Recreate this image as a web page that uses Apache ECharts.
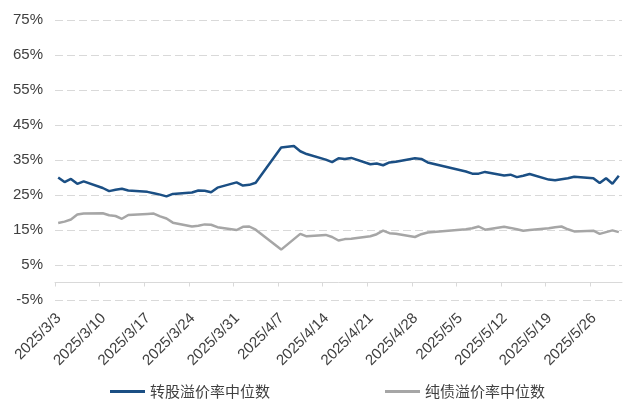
<!DOCTYPE html>
<html>
<head>
<meta charset="utf-8">
<script src="https://cdn.jsdelivr.net/npm/echarts@6/dist/echarts.min.js"></script>
<style>
html,body{margin:0;padding:0;background:#fff;}
#chart{width:633px;height:408px;}
</style>
</head>
<body>
<div id="chart"></div>
<script>
const dates = ['2025/3/3','2025/3/4','2025/3/5','2025/3/6','2025/3/7','2025/3/10','2025/3/11','2025/3/12','2025/3/13','2025/3/14','2025/3/17','2025/3/18','2025/3/19','2025/3/20','2025/3/21','2025/3/24','2025/3/25','2025/3/26','2025/3/27','2025/3/28','2025/3/31','2025/4/1','2025/4/2','2025/4/3','2025/4/7','2025/4/8','2025/4/9','2025/4/10','2025/4/11','2025/4/14','2025/4/15','2025/4/16','2025/4/17','2025/4/18','2025/4/21','2025/4/22','2025/4/23','2025/4/24','2025/4/25','2025/4/28','2025/4/29','2025/4/30','2025/5/6','2025/5/7','2025/5/8','2025/5/9','2025/5/12','2025/5/13','2025/5/14','2025/5/15','2025/5/16','2025/5/19','2025/5/20','2025/5/21','2025/5/22','2025/5/23','2025/5/26','2025/5/27','2025/5/28','2025/5/29','2025/5/30'];

const convPremium = [30.0,28.7,29.6,28.2,28.9, 27.0,26.1,26.5,26.8,26.3, 25.9,25.5,25.1,24.6,25.3, 25.7,26.3,26.2,25.8,27.1, 28.6, 27.7,27.9,28.5, 38.6,38.8,39.0,37.5,36.7, 35.1,34.4,35.5,35.3,35.6, 33.8,34.0,33.5,34.3,34.5, 35.5,35.3,34.3, 31.7,31.1,31.1,31.6, 30.6,30.8,30.1,30.5,31.0, 29.4,29.2,29.5,29.8,30.2, 29.8,28.4,29.8,28.2,30.5];

const bondPremium = [17.0,17.4,18.0,19.4,19.7, 19.8,19.2,19.0,18.2,19.3, 19.6,19.7,18.9,18.3,17.1, 16.0,16.2,16.6,16.5,15.8, 15.0, 15.9,16.0,15.1, 9.4,10.9,12.4,13.9,13.2, 13.6,13.0,12.0,12.4,12.5, 13.2,13.8,14.8,14.1,13.9, 13.0,13.8,14.3, 15.2,15.5,16.0,15.1, 15.9,15.6,15.2,14.8,15.0, 15.5,15.8,16.0,15.2,14.6, 14.8,13.9,14.4,14.9,14.4];

const seriesNames = ['转股溢价率中位数','纯债溢价率中位数'];
const yTicks = { min: -5, max: 75, step: 10 };
const startDate = '2025/3/3';
const weekTicks = [0,7,14,21,28,35,42,49,56,63,70,77,84];

const DAY = 86400000;
function toUTC(s){ const p = s.split('/').map(Number); return Date.UTC(p[0], p[1]-1, p[2]); }
const t0 = toUTC(startDate);
function dayPos(s){ return Math.round((toUTC(s) - t0)/DAY) + 0.5; }
function fmtDate(v){ const d = new Date(t0 + Math.floor(v + 1e-6)*DAY); return d.getUTCFullYear()+'/'+(d.getUTCMonth()+1)+'/'+d.getUTCDate(); }

const blueData = dates.map((d,i)=>[dayPos(d), convPremium[i]]);
const grayData = dates.map((d,i)=>[dayPos(d), bondPremium[i]]);

const chart = echarts.init(document.getElementById('chart'), null, {renderer:'canvas'});
const font = 'Liberation Sans, Arial, sans-serif';
chart.setOption({
  animation: false,
  backgroundColor: '#fff',
  grid: { left: 55, right: 11, top: 20, bottom: 108, containLabel: false },
  legend: {
    left: 110, top: 384, padding: 0,
    itemWidth: 35, itemHeight: 3, itemGap: 115,
    icon: 'rect',
    textStyle: { fontFamily: 'Noto Sans CJK SC', fontSize: 15, color: '#404040' },
    data: seriesNames
  },
  xAxis: [{
    type: 'value', min: 0, max: 89, interval: 7, position: 'bottom',
    axisLine: { show: false, onZero: false },
    axisTick: { show: false },
    splitLine: { show: false },
    axisLabel: {
      rotate: 45, margin: 16, fontSize: 15, color: '#404040', fontFamily: font,
      customValues: weekTicks.map(v => v + 0.6),
      formatter: v => fmtDate(v)
    }
  },{
    type: 'value', min: 0, max: 89, interval: 7, position: 'bottom',
    axisLine: { show: true, onZero: true, lineStyle: { color: '#d9d9d9', width: 1 } },
    axisTick: { show: true, length: 4, customValues: weekTicks, lineStyle: { color: '#d9d9d9', width: 1 } },
    axisLabel: { show: false },
    splitLine: { show: false }
  }],
  yAxis: {
    type: 'value', min: yTicks.min, max: yTicks.max, interval: yTicks.step,
    axisLine: { show: false }, axisTick: { show: false },
    axisLabel: { formatter: '{value}%', fontSize: 15, color: '#404040', fontFamily: font, margin: 12 },
    splitLine: { show: true, lineStyle: { color: '#d9d9d9', type: [8, 4], width: 1 } }
  },
  series: [{
    name: seriesNames[0], type: 'line', data: blueData, xAxisIndex: 0,
    showSymbol: false, symbol: 'none', lineStyle: { color: '#1B4F84', width: 2.5 }, itemStyle: { color: '#1B4F84' }
  },{
    name: seriesNames[1], type: 'line', data: grayData, xAxisIndex: 0,
    showSymbol: false, symbol: 'none', lineStyle: { color: '#A6A6A6', width: 2.5 }, itemStyle: { color: '#A6A6A6' }
  }]
});
</script>
</body>
</html>
